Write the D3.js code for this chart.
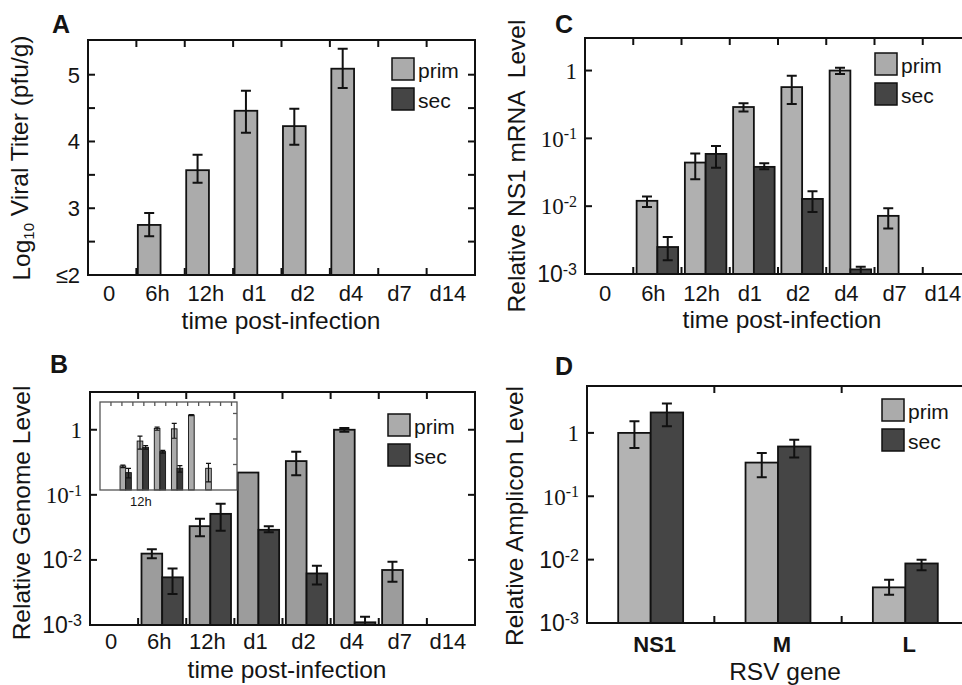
<!DOCTYPE html>
<html lang="en">
<head>
<meta charset="utf-8">
<title>RSV viral titer and RNA levels</title>
<script src="https://cdn.jsdelivr.net/npm/d3@7"></script>
<style>
body { margin: 0; background: #fff; }
text { font-family: "Liberation Sans", Arial, Helvetica, sans-serif; fill: #141414; }
.serif { font-family: "Liberation Serif", "Times New Roman", serif; }
</style>
</head>
<body>
<script>
// categories
var times = ["0", "6h", "12h", "d1", "d2", "d4", "d7", "d14"];
var genes = ["NS1", "M", "L"];
var seriesNames = ["prim", "sec"];

// A: log10 viral titer, primary infection only
var titerPrim   = [null, 2.75, 3.57, 4.46, 4.23, 5.09, null, null];
var titerPrimLo = [null, 2.58, 3.38, 4.13, 3.95, 4.80, null, null];
var titerPrimHi = [null, 2.93, 3.80, 4.76, 4.49, 5.39, null, null];

// B: relative genome level
var genomePrim   = [null, 0.0125, 0.033, 0.22, 0.33, 1.0, 0.0070, null];
var genomePrimLo = [null, 0.0106, 0.023, null, 0.20, 0.93, 0.0046, null];
var genomePrimHi = [null, 0.0146, 0.043, null, 0.46, 1.06, 0.0094, null];
var genomeSec    = [null, 0.0054, 0.051, 0.029, 0.0062, 0.0011, null, null];
var genomeSecLo  = [null, 0.0030, 0.028, 0.0266, 0.0042, 0.0010, null, null];
var genomeSecHi  = [null, 0.0074, 0.073, 0.033, 0.0081, 0.00134, null, null];

// B inset
var insetPrim   = [null, 0.0087, 0.083, 0.26, 0.25, 0.87, 0.0071, null];
var insetPrimLo = [null, 0.0075, 0.040, 0.22, 0.107, 0.83, 0.0021, null];
var insetPrimHi = [null, 0.0095, 0.130, 0.29, 0.41, 0.90, 0.011, null];
var insetSec    = [null, 0.0048, 0.047, 0.032, 0.0071, null, null, null];
var insetSecLo  = [null, 0.0030, 0.040, 0.028, 0.0050, null, null, null];
var insetSecHi  = [null, 0.0071, 0.055, 0.036, 0.0090, null, null, null];

// C: relative NS1 mRNA level
var mrnaPrim   = [null, 0.012, 0.044, 0.29, 0.57, 1.0, 0.0072, null];
var mrnaPrimLo = [null, 0.0097, 0.025, 0.25, 0.32, 0.89, 0.0047, null];
var mrnaPrimHi = [null, 0.0139, 0.060, 0.33, 0.84, 1.10, 0.0093, null];
var mrnaSec    = [null, 0.0025, 0.059, 0.038, 0.0128, 0.00117, null, null];
var mrnaSecLo  = [null, 0.0016, 0.037, 0.035, 0.0082, 0.0010, null, null];
var mrnaSecHi  = [null, 0.0035, 0.077, 0.043, 0.0166, 0.00128, null, null];

// D: relative amplicon level per gene
var ampPrim   = [1.0, 0.34, 0.00365];
var ampPrimLo = [0.58, 0.20, 0.0028];
var ampPrimHi = [1.52, 0.48, 0.0048];
var ampSec    = [2.1, 0.61, 0.0087];
var ampSecLo  = [1.27, 0.41, 0.0068];
var ampSecHi  = [2.9, 0.78, 0.0100];

var logTicks = [1, 0.1, 0.01, 0.001];
var logTickExp = ["", "-1", "-2", "-3"];
var titerTicks = [5, 4, 3, 2];
var titerTickText = ["5", "4", "3", "\u22642"];

var svg = d3.select("body").append("svg")
  .attr("width", 962)
  .attr("height", 685);

var primColor = "#ababab", secColor = "#454545";

function drawPanel(p) {
  var g = svg.append("g");
  var x = d3.scaleBand().domain(p.cats).range([p.left, p.right]);
  var x1 = d3.scaleBand().domain(seriesNames)
    .range([-x.bandwidth() * p.barFrac, x.bandwidth() * p.barFrac]);
  var y = p.y.range([p.bottom, p.top]);

  // bars
  p.series.forEach(function(s) {
    var rows = p.cats.map(function(c, i) {
      return { c: c, v: s.vals[i], lo: s.lo[i], hi: s.hi[i] };
    }).filter(function(d) { return d.v != null; });
    var cx = function(d) { return x(d.c) + x.bandwidth() / 2 + x1(s.name); };
    g.selectAll(null).data(rows).enter().append("rect")
      .attr("x", cx)
      .attr("y", function(d) { return y(d.v); })
      .attr("width", x1.bandwidth())
      .attr("height", function(d) { return p.bottom - y(d.v); })
      .attr("fill", s.color)
      .attr("stroke", "#111")
      .attr("stroke-width", p.barStroke);
    var eb = rows.filter(function(d) { return d.lo != null; });
    var mid = function(d) { return cx(d) + x1.bandwidth() / 2; };
    g.selectAll(null).data(eb).enter().append("path")
      .attr("d", function(d) {
        var m = mid(d), a = y(d.hi), b = y(d.lo), w = p.cap;
        return "M" + m + "," + a + "V" + b +
          "M" + (m - w) + "," + a + "H" + (m + w) +
          "M" + (m - w) + "," + b + "H" + (m + w);
      })
      .attr("fill", "none")
      .attr("stroke", "#111")
      .attr("stroke-width", p.errStroke);
  });

  // frame
  g.append("rect")
    .attr("x", p.left).attr("y", p.top)
    .attr("width", p.right - p.left).attr("height", p.bottom - p.top)
    .attr("fill", "none").attr("stroke", p.frameColor || "#111")
    .attr("stroke-width", p.frameStroke);

  // inward ticks at category boundaries, top and bottom
  var bounds = p.topTicks || p.cats.slice(1).map(function(c) { return x(c); });
  bounds.forEach(function(bx) {
    g.append("line").attr("x1", bx).attr("x2", bx)
      .attr("y1", p.top).attr("y2", p.top + p.tickLen)
      .attr("stroke", p.frameColor || "#111").attr("stroke-width", p.frameStroke);
    if (!p.noBottomTicks) {
      g.append("line").attr("x1", bx).attr("x2", bx)
        .attr("y1", p.bottom).attr("y2", p.bottom - p.tickLen)
        .attr("stroke", "#111").attr("stroke-width", p.frameStroke);
    }
  });
  // inward y ticks, left and right
  p.yTickVals.forEach(function(v) {
    var ty = y(v);
    if (!p.noLeftTicks) {
      g.append("line").attr("x1", p.left).attr("x2", p.left + p.tickLen)
        .attr("y1", ty).attr("y2", ty)
        .attr("stroke", "#111").attr("stroke-width", p.frameStroke);
    }
    g.append("line").attr("x1", p.right).attr("x2", p.right - p.tickLen)
      .attr("y1", ty).attr("y2", ty)
      .attr("stroke", p.frameColor || "#111").attr("stroke-width", p.frameStroke);
  });

  return { g: g, x: x, y: y };
}

function xLabels(pn, labels, baseline, size, weight, shift) {
  pn.g.selectAll(null).data(labels).enter().append("text")
    .attr("x", function(d) { return pn.x(d) + pn.x.bandwidth() / 2 + (shift || 0); })
    .attr("y", baseline)
    .attr("text-anchor", "middle")
    .attr("font-size", size)
    .attr("font-weight", weight || "normal")
    .text(function(d) { return d; });
}

function logLabels(pn, left, serifCount) {
  logTicks.forEach(function(v, i) {
    var t = pn.g.append("text")
      .attr("x", left - 8)
      .attr("y", pn.y(v))
      .attr("dy", "0.36em")
      .attr("text-anchor", "end")
      .attr("font-size", 23);
    if (i < serifCount) t.attr("class", "serif");
    if (logTickExp[i] === "") {
      t.text("1");
    } else {
      t.append("tspan").text("10");
      t.append("tspan").attr("dy", "-0.45em").attr("font-size", 16).text(logTickExp[i]);
    }
  });
}

function axisTitle(text, x, y, rotate) {
  var t = svg.append("text")
    .attr("text-anchor", "middle")
    .attr("font-size", 24.5)
    .style("white-space", "pre");
  if (rotate) t.attr("transform", "translate(" + x + "," + y + ") rotate(-90)");
  else t.attr("x", x).attr("y", y);
  return t;
}

function panelLetter(ch, x, y) {
  svg.append("text").attr("x", x).attr("y", y)
    .attr("font-size", 25).attr("font-weight", "bold").text(ch);
}

function legend(x, y, size) {
  seriesNames.forEach(function(n, i) {
    var yy = y + i * 30;
    svg.append("rect").attr("x", x).attr("y", yy)
      .attr("width", 22).attr("height", 22)
      .attr("fill", i === 0 ? primColor : secColor)
      .attr("stroke", "#111").attr("stroke-width", 1.5);
    svg.append("text").attr("x", x + 26).attr("y", yy + 20)
      .attr("font-size", size).text(n);
  });
}

// ---------- Panel A ----------
var pA = drawPanel({
  cats: times, left: 88, right: 475, top: 40, bottom: 275,
  y: d3.scaleLinear().domain([2, 5.52]),
  series: [{ name: "prim", vals: titerPrim, lo: titerPrimLo, hi: titerPrimHi, color: primColor }],
  barFrac: 0.47, cap: 5, errStroke: 2, barStroke: 1.8, frameStroke: 2, tickLen: 7,
  yTickVals: [2, 2.5, 3, 3.5, 4, 4.5, 5]
});
titerTicks.forEach(function(v, i) {
  pA.g.append("text").attr("x", 80).attr("y", pA.y(v)).attr("dy", "0.36em")
    .attr("text-anchor", "end").attr("font-size", 22).text(titerTickText[i]);
});
xLabels(pA, times, 301, 22, "normal", -3);
axisTitle("", 281, 329).text("time post-infection");
var tA = axisTitle("", 30, 158, true);
tA.append("tspan").text("Log");
tA.append("tspan").attr("font-size", 15).attr("dy", "0.25em").text("10");
tA.append("tspan").attr("dy", "-0.25em").text(" Viral Titer (pfu/g)");
panelLetter("A", 52, 33);
legend(392, 58, 21);

// ---------- Panel B ----------
var pB = drawPanel({
  cats: times, left: 90, right: 475, top: 392, bottom: 625,
  y: d3.scaleLog().domain([1e-3, Math.pow(10, 0.58)]),
  series: [
    { name: "prim", vals: genomePrim, lo: genomePrimLo, hi: genomePrimHi, color: "#9c9c9c" },
    { name: "sec", vals: genomeSec, lo: genomeSecLo, hi: genomeSecHi, color: secColor }
  ],
  barFrac: 0.43, cap: 5, errStroke: 2, barStroke: 1.8, frameStroke: 2, tickLen: 7,
  yTickVals: logTicks
});
logLabels(pB, 90, 2);
xLabels(pB, times, 649, 22, "normal", -3);
axisTitle("", 287, 678).text("time post-infection");
axisTitle("", 30, 513, true).text("Relative Genome Level");
panelLetter("B", 50, 373);
legend(388, 414, 21);

// inset
svg.append("rect").attr("x", 100).attr("y", 402).attr("width", 137).attr("height", 88)
  .attr("fill", "#fff");
var pI = drawPanel({
  cats: times, left: 100, right: 237, top: 402, bottom: 490,
  y: d3.scaleLog().domain([1e-3, Math.pow(10, 0.45)]),
  series: [
    { name: "prim", vals: insetPrim, lo: insetPrimLo, hi: insetPrimHi, color: primColor },
    { name: "sec", vals: insetSec, lo: insetSecLo, hi: insetSecHi, color: "#3a3a3a" }
  ],
  barFrac: 0.33, cap: 2.5, errStroke: 1.2, barStroke: 0.9, frameStroke: 1.3, tickLen: 4,
  frameColor: "#555", noBottomTicks: true, noLeftTicks: true,
  topTicks: d3.range(1, 13).map(function(k) { return 100 + k * 137 / 12.5; }),
  yTickVals: [1, 0.1, 0.01]
});
pI.g.append("text").attr("x", pI.x("12h") + pI.x.bandwidth() / 2 - 2).attr("y", 506)
  .attr("text-anchor", "middle").attr("font-size", 13).text("12h");

// ---------- Panel C ----------
var pC = drawPanel({
  cats: times, left: 585, right: 971, top: 38, bottom: 274,
  y: d3.scaleLog().domain([1e-3, Math.pow(10, 0.48)]),
  series: [
    { name: "prim", vals: mrnaPrim, lo: mrnaPrimLo, hi: mrnaPrimHi, color: "#b0b0b0" },
    { name: "sec", vals: mrnaSec, lo: mrnaSecLo, hi: mrnaSecHi, color: secColor }
  ],
  barFrac: 0.43, cap: 5, errStroke: 2, barStroke: 1.8, frameStroke: 2, tickLen: 7,
  yTickVals: logTicks
});
logLabels(pC, 585, 3);
xLabels(pC, times, 301, 22, "normal", -4);
axisTitle("", 782, 328).text("time post-infection");
axisTitle("", 525, 166, true).text("Relative NS1 mRNA  Level");
panelLetter("C", 555, 33);
legend(875, 53, 21);

// ---------- Panel D ----------
var pD = drawPanel({
  cats: genes, left: 587, right: 969, top: 386, bottom: 623,
  y: d3.scaleLog().domain([1e-3, Math.pow(10, 0.74)]),
  series: [
    { name: "prim", vals: ampPrim, lo: ampPrimLo, hi: ampPrimHi, color: "#b3b3b3" },
    { name: "sec", vals: ampSec, lo: ampSecLo, hi: ampSecHi, color: secColor }
  ],
  barFrac: 0.255, cap: 5, errStroke: 2, barStroke: 1.8, frameStroke: 2, tickLen: 7,
  yTickVals: logTicks
});
logLabels(pD, 587, 2);
xLabels(pD, genes, 652, 22, "bold", 4);
axisTitle("", 785, 680).text("RSV gene");
axisTitle("", 523, 516, true).text("Relative Amplicon Level");
panelLetter("D", 555, 375);
legend(882, 399, 21);
</script>
</body>
</html>
